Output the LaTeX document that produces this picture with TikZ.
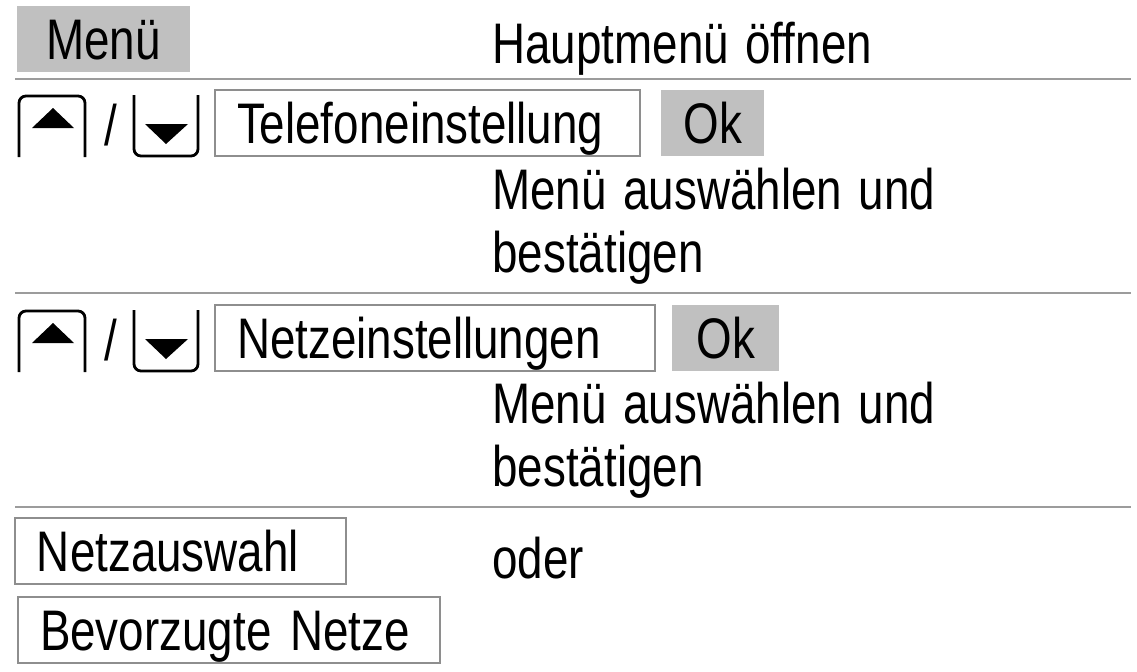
\documentclass[tikz,border=0pt]{standalone}
\usepackage{fontspec}
\newfontfamily\guifont[FakeStretch=0.80,WordSpace=1.3]{Liberation Sans}
\usetikzlibrary{positioning}
\definecolor{keygray}{HTML}{C0C0C0}
\definecolor{framegray}{HTML}{8E8E8E}
\definecolor{rulegray}{HTML}{9C9C9C}

\begin{document}
\begin{tikzpicture}[
    x=0.5pt, y=-0.5pt,
    every node/.style={font=\guifont\fontsize{28.6}{31.5}\selectfont},
    softkey/.style={rectangle, fill=keygray, inner sep=0pt, minimum height=33pt, text height=20.5pt, text depth=0pt},
    entrybox/.style={rectangle, draw=framegray, line width=1pt, inner ysep=0pt, inner xsep=11pt, minimum height=33pt, text height=20.5pt, text depth=0pt, align=left},
    hint/.style={anchor=base west, inner sep=0pt, align=left},
    sepline/.style={rulegray, line width=1.3pt},
    keyline/.style={line width=1.4pt, rounded corners=3.5pt}
]
\useasboundingbox (0,0) rectangle (1137,671);

\node[softkey, minimum width=86.5pt] (menu) at (103.5,38.5) {Menü};
\node[hint] (open) at (492,63) {Hauptmenü öffnen};
\draw[sepline] (15,79) -- (1131,79);

\node[entrybox, text width=190.5pt] (phone) at (427.5,123) {Telefoneinstellung};
\node[softkey, minimum width=51.5pt, right=10pt of phone] (ok1) {Ok};
\node[hint] (select1) at (492,272) {Menü auswählen und\\bestätigen};
\draw[sepline] (15,293) -- (1131,293);

\node[entrybox, text width=198pt] (network) at (435,338) {Netzeinstellungen};
\node[softkey, minimum width=53.5pt, right=8pt of network] (ok2) {Ok};
\node[hint] (select2) at (492,486) {Menü auswählen und\\bestätigen};
\draw[sepline] (15,507) -- (1131,507);

\node[entrybox, text width=143.5pt] (choice) at (180.5,551) {Netzauswahl};
\node[hint] (or) at (492,578) {oder};
\node[entrybox, text width=189pt] (preferred) at (229,630) {Bevorzugte Netze};

% arrow keys
\foreach \dy in {0,215} {
  \begin{scope}[shift={(0,\dy)}]
    \draw[keyline] (19,157) -- (19,96) -- (85,96) -- (85,157);
    \fill (53,108) -- (74,128) -- (32,128) -- cycle;
    \node[hint] (slash) at (104,145) {/};
    \draw[keyline] (134,95) -- (134,156) -- (198,156) -- (198,95);
    \fill (145,124) -- (188,124) -- (166,144) -- cycle;
  \end{scope}
}
\end{tikzpicture}
\end{document}
